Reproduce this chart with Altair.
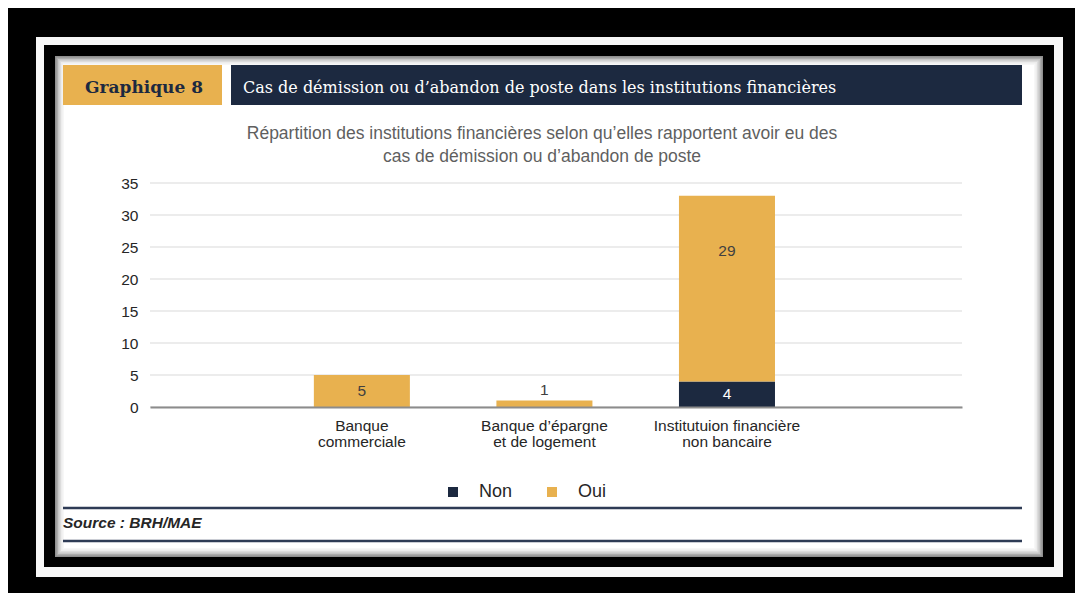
import altair as alt
import pandas as pd

# ---------------- data ----------------
categories = ["Banque\ncommerciale", "Banque d’épargne\net de logement", "Institutuion financière\nnon bancaire"]
series = ["Non", "Oui"]
non_values = [0, 0, 4]
oui_values = [5, 1, 29]
y_ticks = [0, 5, 10, 15, 20, 25, 30, 35]
colors = ["#1C2940", "#E8B14F"]

rows = []
for c, n, o in zip(categories, non_values, oui_values):
    rows.append({"cat": c, "serie": "Non", "val": n, "lo": 0, "hi": n})
    rows.append({"cat": c, "serie": "Oui", "val": o, "lo": n, "hi": n + o})
df = pd.DataFrame(rows)
df["mid"] = (df["lo"] + df["hi"]) / 2
df["upper"] = df["lo"] + 0.7 * (df["hi"] - df["lo"])
grid_df = pd.DataFrame({"v": y_ticks})

# ---------------- geometry (page coords) ----------------
OX, OY = 150, 183          # plot origin on page
W, H = 812, 224            # plot area
one = alt.Data(values=[{"k": 0}])
FONT = "Liberation Sans"


def rect(x1, y1, x2, y2, color):
    return alt.Chart(one).mark_rect(color=color).encode(
        x=alt.value(x1 - OX), x2=alt.value(x2 - OX),
        y=alt.value(y1 - OY), y2=alt.value(y2 - OY))


def text(t, px, py, size, color, font=FONT, align="left", weight="normal", style="normal"):
    return alt.Chart(one).mark_text(
        text=t, font=font, fontSize=size, color=color, align=align,
        baseline="middle", fontWeight=weight, fontStyle=style
    ).encode(x=alt.value(px - OX), y=alt.value(py - OY))


yscale = alt.Scale(domain=[0, 35], nice=False)
yaxis = alt.Axis(values=y_ticks, tickCount=len(y_ticks), ticks=False, domain=False, grid=False,
                 labelFont=FONT, labelFontSize=15.5, labelColor="#262626",
                 labelPadding=12, labelOverlap=False, zindex=1)


def Y(field):
    return alt.Y(field, title=None, scale=yscale, axis=yaxis)


layers = []
# frame
layers.append(rect(36, 37, 1063, 577, "#f7f7f7"))
layers.append(rect(44, 45, 1054, 567, "#000000"))
shadow = ["#8f8f8f", "#acacac", "#c6c6c6", "#dcdcdc", "#ececec", "#f7f7f7", "#ffffff"]
for i, col in enumerate(shadow):
    d = i * 1.5
    layers.append(rect(55 + d, 56 + d, 1043 - d, 557 - d, col))

# header
layers.append(rect(63, 65, 222, 105, "#E8B14F"))
layers.append(rect(231, 65, 1022, 105, "#1C2940"))
layers.append(text("Graphique 8", 144, 88, 17, "#1C2940", font="DejaVu Serif", align="center", weight="bold"))
layers.append(text("Cas de démission ou d’abandon de poste dans les institutions financières",
                   243, 88, 16, "#ffffff", font="DejaVu Serif"))

# subtitle
layers.append(text("Répartition des institutions financières selon qu’elles rapportent avoir eu des",
                   542, 134, 17.5, "#5f5f5f", align="center"))
layers.append(text("cas de démission ou d’abandon de poste", 542, 157, 17.5, "#5f5f5f", align="center"))

# gridlines
grid = alt.Chart(grid_df).mark_rule(color="#d9d9d9", strokeWidth=1).encode(y=Y("v:Q"))
layers.append(grid)

xenc = alt.X("cat:N", sort=categories, title=None,
             scale=alt.Scale(paddingInner=0.474, paddingOuter=0.961, align=0.467),
             axis=alt.Axis(labelAngle=0, labelExpr="split(datum.label, '\\n')",
                           ticks=False, domainColor="#8c8c8c", domainWidth=2,
                           labelFont=FONT, labelFontSize=15.5, labelColor="#262626",
                           labelPadding=11, labelLineHeight=16, zindex=1, grid=False))

bars = alt.Chart(df).mark_bar().encode(
    x=xenc,
    y=Y("lo:Q"),
    y2="hi:Q",
    color=alt.Color("serie:N", scale=alt.Scale(domain=series, range=colors),
                    legend=alt.Legend(orient="none", legendX=294, legendY=300,
                                      direction="horizontal", title=None,
                                      symbolType="square", symbolSize=100,
                                      symbolStrokeWidth=0, labelFont=FONT,
                                      labelFontSize=18, labelColor="#262626",
                                      labelOffset=17, columnPadding=30, padding=0)),
)
layers.append(bars)

# data labels
lab_mid = alt.Chart(df).transform_filter("datum.val >= 3 && datum.val <= 10").mark_text(
    font=FONT, fontSize=15.5, baseline="middle").encode(
    x=alt.X("cat:N", sort=categories), y=Y("mid:Q"), text="val:Q",
    color=alt.Color("serie:N", scale=alt.Scale(domain=series, range=["#ffffff", "#404040"]), legend=None))
lab_tall = alt.Chart(df).transform_filter("datum.val > 10").mark_text(
    font=FONT, fontSize=15.5, baseline="middle", color="#404040").encode(
    x=alt.X("cat:N", sort=categories), y=Y("upper:Q"), text="val:Q")
lab_small = alt.Chart(df).transform_filter("datum.val > 0 && datum.val < 3").mark_text(
    font=FONT, fontSize=15.5, baseline="bottom", dy=-3, color="#404040").encode(
    x=alt.X("cat:N", sort=categories), y=Y("hi:Q"), text="val:Q")
layers += [lab_mid, lab_tall, lab_small]

# footer
layers.append(alt.Chart(one).mark_rule(color="#2E3B55", strokeWidth=2.5).encode(
    x=alt.value(63 - OX), x2=alt.value(1022 - OX), y=alt.value(508 - OY)))
layers.append(alt.Chart(one).mark_rule(color="#2E3B55", strokeWidth=2.5).encode(
    x=alt.value(63 - OX), x2=alt.value(1022 - OX), y=alt.value(541 - OY)))
layers.append(text("Source : BRH/MAE", 63, 523, 15.5, "#262626", weight="bold", style="italic"))

chart = alt.layer(*layers).resolve_scale(color="independent").properties(
    width=W, height=H,
    autosize=alt.AutoSizeParams(type="none"),
    padding={"left": OX - 8, "top": OY - 8, "right": 1075 - OX - W, "bottom": 593 - OY - H},
).configure(background="#000000").configure_view(strokeWidth=0)

chart.save("out.html", embed_options={"renderer": "svg", "actions": False})
